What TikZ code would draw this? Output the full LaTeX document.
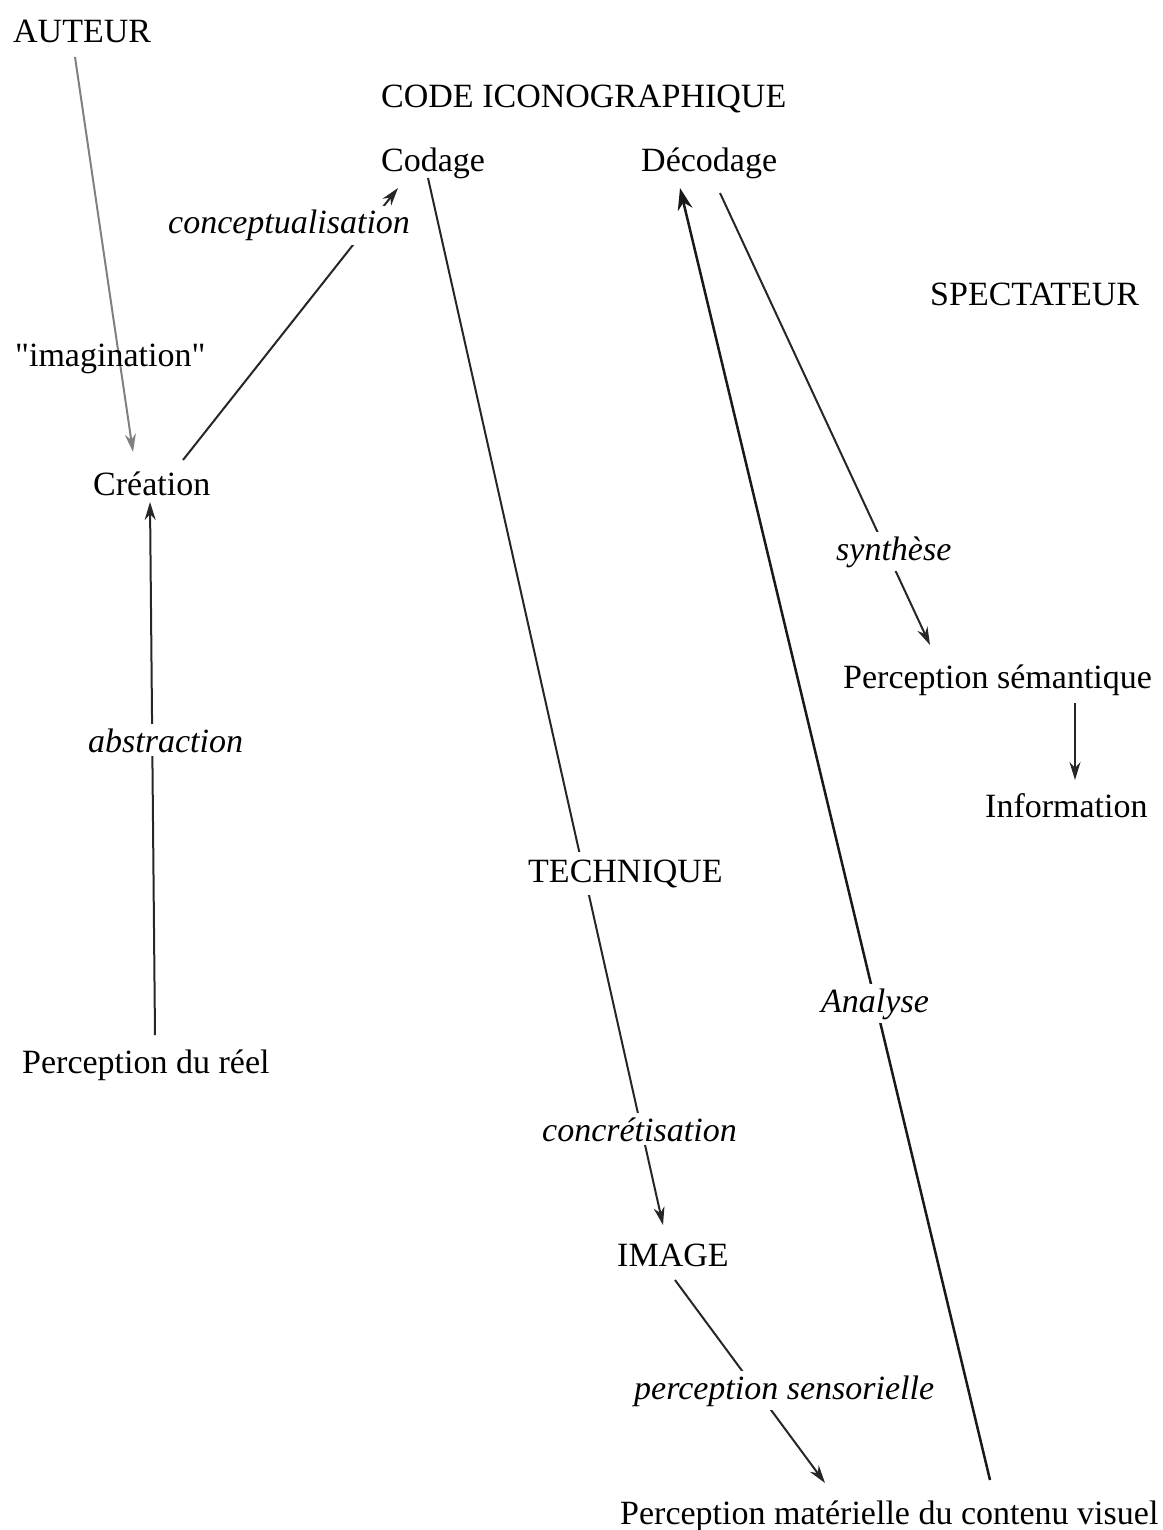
\documentclass[tikz,border=0pt]{standalone}
\usepackage{fontspec}
\setmainfont{Liberation Serif}
\font\rawserif="Liberation Serif" at 34pt
\usetikzlibrary{arrows.meta,backgrounds}
\begin{document}
\begin{tikzpicture}[x=1pt,y=-1pt,
  txt/.style={anchor=base west, inner sep=0pt, font=\fontsize{34}{40}\selectfont},
  lbl/.style={anchor=base west, inner xsep=1pt, inner ysep=4pt, fill=white, font=\fontsize{34}{40}\selectfont\itshape},
  plainlbl/.style={anchor=base west, inner sep=0pt, font=\rawserif},
  masklbl/.style={anchor=base west, inner xsep=1pt, inner ysep=7pt, fill=white, font=\fontsize{34}{40}\selectfont},
  conn/.style={line width=2pt, draw=black!85, -{Stealth[length=18pt,width=11pt]}},
  paleconn/.style={conn, draw=black!50},
  bigconn/.style={line width=2.5pt, draw=black!90, -{Stealth[length=22pt,width=15pt]}}]
\useasboundingbox (0,0) rectangle (1162,1530);
% nodes
\node[txt] (auteur) at (13,43) {AUTEUR};
\node[txt] (code) at (381,108) {CODE ICONOGRAPHIQUE};
\node[txt] (codage) at (381,172) {Codage};
\node[txt] (decodage) at (641,172) {Décodage};
\node[txt] (spect) at (930,305) {SPECTATEUR};
\node[plainlbl] (imag) at (15,366) {"imagination"};
\node[txt] (creation) at (93,495) {Création};
\node[lbl] (concept) at (167,234) {conceptualisation};
\node[lbl] (synth) at (835,560) {synthèse};
\node[txt] (percsem) at (843,688) {Perception sémantique};
\node[lbl] (abstr) at (87,752) {abstraction};
\node[txt] (info) at (985,817) {Information};
\node[masklbl] (tech) at (527,882) {TECHNIQUE};
\node[lbl] (analyse) at (820,1012) {Analyse};
\node[txt] (percreel) at (22,1073) {Perception du réel};
\node[lbl] (concr) at (541,1141) {concrétisation};
\node[txt] (image) at (617,1266) {IMAGE};
\node[lbl] (percsens) at (633,1399) {perception sensorielle};
\node[txt] (percmat) at (620,1524) {Perception matérielle du contenu visuel};
% connectors
\begin{pgfonlayer}{background}
\draw[paleconn] ([shift={(62,14)}]auteur.base west) -- ([shift={(40,-43)}]creation.base west);
\draw[conn] ([shift={(90,-35)}]creation.base west) -- ([shift={(17,16)}]codage.base west);
\draw[conn] ([shift={(47,6)}]codage.base west) -- ([shift={(46,-41)}]image.base west);
\draw[conn] ([shift={(58,14)}]image.base west) -- ([shift={(205,-41)}]percmat.base west);
\draw[bigconn] ([shift={(370,-44)}]percmat.base west) -- ([shift={(39,16)}]decodage.base west);
\draw[conn] ([shift={(79,21)}]decodage.base west) -- ([shift={(87,-43)}]percsem.base west);
\draw[conn] ([shift={(232,15)}]percsem.base west) -- ([shift={(90,-37)}]info.base west);
\draw[conn] ([shift={(133,-38)}]percreel.base west) -- ([shift={(57,7)}]creation.base west);
\end{pgfonlayer}
\end{tikzpicture}
\end{document}
